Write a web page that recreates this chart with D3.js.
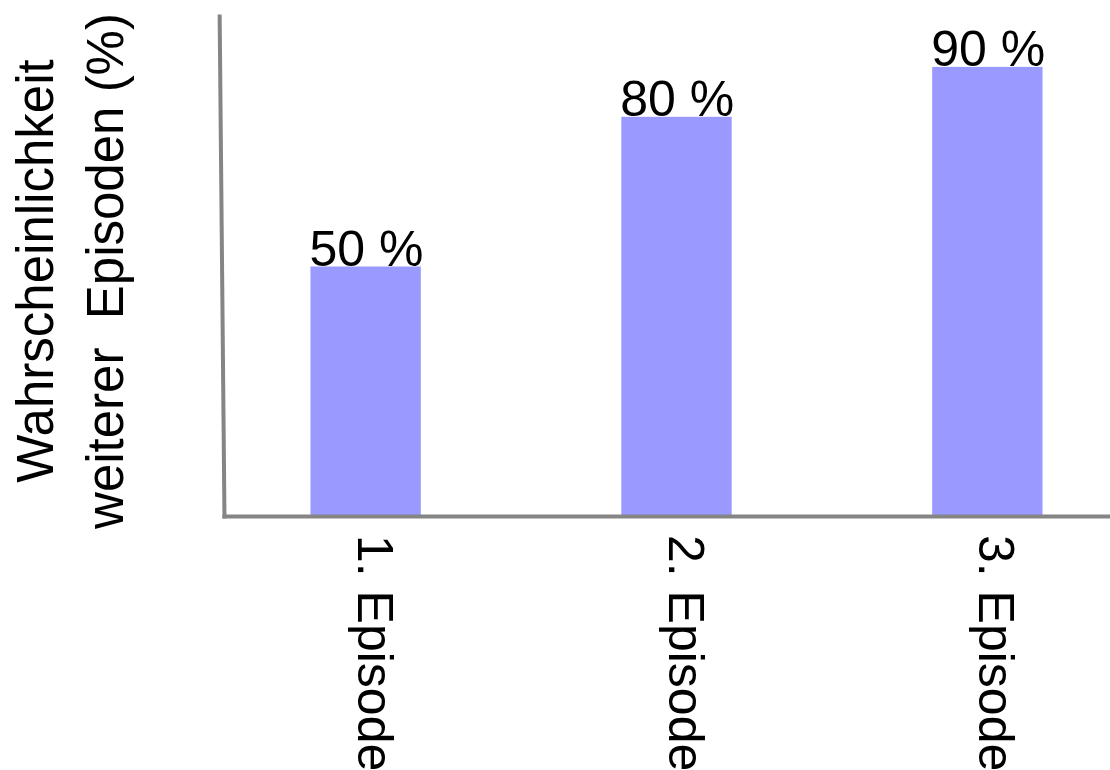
<!DOCTYPE html>
<html lang="de">
<head>
    <meta charset="UTF-8">
    <style>
        body { margin: 0; background: #fff; }
        text { font-family: "Liberation Sans", Arial, sans-serif; fill: #000; }
        .axis path { stroke: #858585; stroke-width: 4; }
        .axis .tick line { display: none; }
        .axis .tick text { display: none; }
    </style>
    <script src="https://d3js.org/d3.v7.min.js"></script>
    <title>Wahrscheinlichkeit weiterer Episoden</title>
</head>
<body>
    <svg width="1110" height="770"></svg>

    <script>
        // data
        var categories = ["1. Episode", "2. Episode", "3. Episode"];
        var values = [50, 80, 90];
        var valueLabels = ["50 %", "80 %", "90 %"];
        var yTitle = ["Wahrscheinlichkeit", "weiterer  Episoden (%)"];

        var svg = d3.select("svg");

        var margin = {left: 224, top: 17, bottom: 516, right: 1110};

        // scales
        var x = d3.scaleBand()
                  .domain(categories)
                  .range([211, 1142])
                  .paddingInner(0.645)
                  .paddingOuter(0.32);

        var y = d3.scaleLinear()
                  .domain([0, 100])
                  .range([margin.bottom, margin.top]);

        // bars
        svg.selectAll(".bar")
           .data(values)
           .enter().append("rect")
           .attr("class", "bar")
           .attr("x", function(d, i) { return x(categories[i]); })
           .attr("width", x.bandwidth())
           .attr("y", function(d) { return y(d); })
           .attr("height", function(d) { return y(0) - y(d); })
           .attr("fill", "#9999ff");

        // value labels above bars
        svg.selectAll(".val")
           .data(values)
           .enter().append("text")
           .attr("class", "val")
           .attr("x", function(d, i) { return x(categories[i]) - 1; })
           .attr("y", function(d) { return y(d) - 1; })
           .style("font-size", "50px")
           .text(function(d, i) { return valueLabels[i]; });

        // x axis (line only)
        svg.append("g")
           .attr("class", "axis")
           .attr("transform", "translate(0," + margin.bottom + ")")
           .call(d3.axisBottom(d3.scaleLinear().range([margin.left - 2, margin.right])).ticks(0).tickSizeOuter(0));

        // y axis, drawn slightly leaning like the original
        svg.append("g")
           .attr("class", "axis")
           .attr("transform", "translate(" + (margin.left - 5) + ",0) skewX(0.55)")
           .call(d3.axisLeft(y.copy().range([margin.bottom + 2, 14])).ticks(0).tickSizeOuter(0));

        // x tick labels, rotated
        svg.selectAll(".cat")
           .data(categories)
           .enter().append("text")
           .attr("class", "cat")
           .attr("transform", function(d) {
               return "translate(" + (x(d) + x.bandwidth() / 2 - 8) + ",535) rotate(90)";
           })
           .style("font-size", "50px")
           .text(function(d) { return d; });

        // y axis title
        var title = svg.append("text")
           .attr("transform", "translate(53,271) rotate(-90)")
           .attr("text-anchor", "middle")
           .style("font-size", "51px")
           .attr("xml:space", "preserve")
           .style("white-space", "pre");

        title.selectAll("tspan")
             .data(yTitle)
             .enter().append("tspan")
             .attr("x", 0)
             .attr("dy", function(d, i) { return i ? 70 : 0; })
             .text(function(d) { return d; });
    </script>
</body>
</html>
